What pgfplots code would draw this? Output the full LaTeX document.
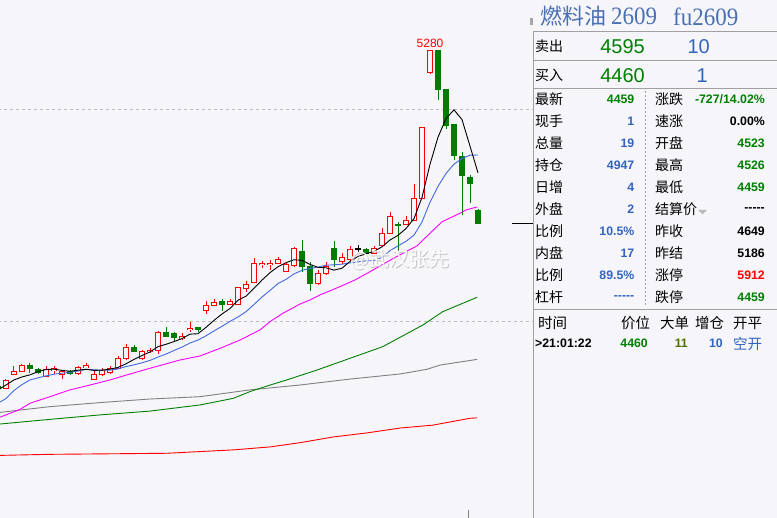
\documentclass[border=0pt]{standalone}
\usepackage{pgfplots}
\usepackage{pgfplotstable}
\pgfplotsset{compat=1.18}
\usepackage{fontspec}
\setmainfont{Liberation Sans}
\newfontfamily\cjk{Noto Sans CJK SC}
\newfontfamily\titlelat[FakeStretch=0.92]{Liberation Serif}

\definecolor{bgc}{RGB}{245,245,250}
\definecolor{cred}{RGB}{255,0,0}
\definecolor{cgreen}{RGB}{0,125,0}
\definecolor{mablue}{RGB}{65,105,225}
\definecolor{mamag}{RGB}{255,0,255}
\definecolor{magreen}{RGB}{0,128,0}
\definecolor{magray}{RGB}{128,128,128}
\definecolor{vblue}{RGB}{50,100,190}
\definecolor{vgreen}{RGB}{0,128,0}
\definecolor{volive}{RGB}{85,110,0}
\definecolor{ttl}{RGB}{74,112,180}
\definecolor{pline}{RGB}{160,160,160}
\definecolor{dashc}{RGB}{190,190,190}

\newcommand{\numF}{\bfseries\fontsize{12.3}{14}\selectfont}
\newcommand{\cjkF}{\cjk\fontsize{14}{16}\selectfont}
\newcommand{\dashes}{-{}-{}-{}-{}-}

\pgfplotsset{
  candle/.style n args={2}{draw=none, mark=none, forget plot,
    error bars/.cd, y dir=both, y explicit, error mark=none,
    error bar style={solid, draw=#1, line width=#2, line cap=butt}},
}

% rising candles (close >= open)
\pgfplotstableread{
k o h l c
0 3681 3725 3677 3717
1 3749 3788 3748 3764
2 3764 3799 3759 3792
5 3739 3788 3736 3769
6 3767 3788 3751 3774
7 3749 3771 3728 3761
9 3752 3789 3745 3782
10 3781 3800 3777 3789
11 3725 3767 3724 3749
12 3748 3777 3742 3766
13 3757 3790 3751 3777
14 3777 3835 3774 3824
15 3823 3892 3816 3874
17 3823 3861 3817 3855
18 3854 3871 3848 3863
19 3863 3951 3844 3945
22 3917 3942 3910 3926
23 3959 3994 3948 3966
25 4049 4094 4033 4075
26 4074 4102 4073 4088
28 4079 4104 4078 4094
29 4080 4156 4078 4156
30 4154 4187 4135 4170
31 4183 4296 4182 4272
32 4267 4283 4249 4272
33 4267 4288 4241 4272
34 4270 4303 4269 4292
35 4233 4280 4231 4267
36 4264 4350 4256 4343
39 4175 4241 4170 4225
40 4222 4277 4219 4256
42 4280 4320 4270 4301
43 4288 4354 4283 4335
46 4319 4354 4316 4343
47 4358 4437 4352 4414
48 4414 4516 4410 4495
50 4453 4494 4451 4476
51 4476 4645 4474 4579
52 4579 4914 4578 4914
53 5171 5280 5165 5274
}\upc

% falling candles
\pgfplotstableread{
k o h l c
-1 3690 3698 3675 3681
3 3792 3803 3756 3774
4 3772 3776 3751 3758
8 3764 3769 3745 3753
16 3876 3887 3854 3856
20 3945 3970 3926 3929
21 3939 3950 3907 3923
24 3967 3973 3950 3958
27 4091 4102 4049 4079
37 4330 4382 4233 4256
38 4256 4278 4143 4175
41 4343 4377 4256 4288
45 4335 4344 4316 4319
49 4456 4468 4327 4450
54 5274 5275 5042 5090
55 5094 5094 4904 4920
56 4925 4925 4759 4783
57 4775 4799 4500 4684
58 4678 4689 4558 4649
59 4523 4526 4459 4459
}\downc

% flat candle
\pgfplotstableread{
k o h l c
44 4340 4358 4321 4340
}\flatc

\pgfplotstableread{
k v
-1 3675
0 3698
1 3722
2 3736
3 3746
4 3761
5 3771
6 3773
7 3767
8 3763
9 3768
10 3772
11 3767
12 3768
13 3773
14 3781
15 3798
16 3819
17 3837
18 3854
19 3879
20 3890
21 3903
22 3917
23 3938
24 3940
25 3970
26 4003
27 4033
28 4059
29 4098
30 4117
31 4154
32 4193
33 4228
34 4256
35 4275
36 4289
37 4286
38 4267
39 4253
40 4251
41 4240
42 4249
43 4281
44 4304
45 4317
46 4328
47 4350
48 4382
49 4404
50 4436
51 4483
52 4583
53 4739
54 4867
55 4955
56 4996
57 4950
58 4825
59 4699
}\maA

\pgfplotstableread{
k v
-1 3612
0 3634
1 3672
2 3700
3 3722
4 3732
5 3741
6 3749
7 3754
8 3758
9 3764
10 3772
11 3770
12 3768
13 3768
14 3774
15 3785
16 3793
17 3803
18 3814
19 3830
20 3844
21 3861
22 3877
23 3896
24 3910
25 3930
26 3953
27 3975
28 3998
29 4019
30 4044
31 4078
32 4113
33 4144
34 4177
35 4196
36 4222
37 4239
38 4248
39 4254
40 4263
41 4265
42 4268
43 4274
44 4279
45 4284
46 4284
47 4300
48 4332
49 4354
50 4376
51 4405
52 4467
53 4560
54 4635
55 4696
56 4740
57 4766
58 4782
59 4783
}\maB

\pgfplotstableread{
k v
-0.75 3546
1.75 3583
3 3612
5.5 3643
8 3675
10.5 3698
13 3722
15.5 3750
18 3777
20.5 3803
21.75 3816
24.25 3835
26.75 3871
29.25 3910
31.75 3958
33 3997
34.6 4036
36.75 4080
38 4099
39.25 4123
41.75 4162
43.6 4193
45.9 4241
48.4 4295
51.4 4355
53 4414
54.5 4468
56.3 4500
57.6 4525
58.9 4538
}\maC

\pgfplotstableread{
k v
-0.75 3514
5.5 3536
11.75 3557
18 3575
24.25 3604
28.4 3635
30.5 3667
32.6 3693
35.1 3722
38.9 3769
43 3824
47.1 3879
52.1 3981
54.6 4044
58.9 4112
}\maD

\pgfplotstableread{
k v
-0.75 3569
5.5 3596
11.75 3615
18 3632
24.25 3643
30.5 3675
36.75 3698
43 3726
49.25 3750
52.6 3772
54.25 3792
58.9 3819
}\maE

\pgfplotstableread{
k v
-0.75 3366
5.4 3371
20.1 3376
23.2 3382
28.4 3392
33 3406
36.75 3426
40.9 3453
45.1 3472
49.25 3495
53.4 3509
58 3541
58.9 3543
}\maF

\begin{document}
\begin{tikzpicture}[x=1pt,y=1pt]
\path[use as bounding box] (0,0) rectangle (777,518);
\fill[bgc] (0,0) rectangle (777,518);
\begin{axis}[at={(0pt,0pt)}, anchor=south west, width=533pt, height=518pt,
  scale only axis, xmin=-0.75, xmax=65.875, ymin=3070.75, ymax=5514.15,
  hide axis, clip=true]
\draw[dashc, line width=0.8pt, dash pattern=on 3pt off 3pt] (axis cs:-1,5000) -- (axis cs:66,5000);
\draw[dashc, line width=0.8pt, dash pattern=on 3pt off 3pt] (axis cs:-1,4000) -- (axis cs:66,4000);
% wicks
\addplot[candle={cred}{1pt}]
  table[x=k, y expr={(\thisrow{h}+\thisrow{l})/2}, y error expr={(\thisrow{h}-\thisrow{l})/2}] {\upc};
\addplot[candle={cgreen}{1pt}]
  table[x=k, y expr={(\thisrow{h}+\thisrow{l})/2}, y error expr={(\thisrow{h}-\thisrow{l})/2}] {\downc};
\addplot[candle={black}{1pt}]
  table[x=k, y expr={(\thisrow{h}+\thisrow{l})/2}, y error expr={(\thisrow{h}-\thisrow{l})/2}] {\flatc};
% bodies
\addplot[candle={cred}{6pt}]
  table[x=k, y expr={(\thisrow{o}+\thisrow{c})/2}, y error expr={abs(\thisrow{c}-\thisrow{o})/2+2.4}] {\upc};
\addplot[candle={bgc}{4pt}]
  table[x=k, y expr={(\thisrow{o}+\thisrow{c})/2}, y error expr={max(abs(\thisrow{c}-\thisrow{o})/2-2.4,0)}] {\upc};
\addplot[candle={cgreen}{6pt}]
  table[x=k, y expr={(\thisrow{o}+\thisrow{c})/2}, y error expr={abs(\thisrow{c}-\thisrow{o})/2+2.4}] {\downc};
\addplot[candle={black}{6pt}]
  table[x=k, y expr={(\thisrow{o}+\thisrow{c})/2}, y error expr={abs(\thisrow{c}-\thisrow{o})/2+2.4}] {\flatc};
% moving averages
\addplot[cred, line width=0.9pt] table[x=k,y=v] {\maF};
\addplot[magray, line width=0.9pt] table[x=k,y=v] {\maE};
\addplot[magreen, line width=0.9pt] table[x=k,y=v] {\maD};
\addplot[mamag, line width=0.9pt] table[x=k,y=v] {\maC};
\addplot[mablue, line width=0.9pt] table[x=k,y=v] {\maB};
\addplot[black, line width=0.9pt] table[x=k,y=v] {\maA};
\node[cred, anchor=base, inner sep=0, font=\fontsize{12}{12}\selectfont] at (axis cs:53,5290) {5280};
\draw[black, line width=1pt] (axis cs:63.25,4459) -- (axis cs:65.9,4459);
\end{axis}
\begin{scope}[shift={(0,518)}, y=-1pt]
% watermark
\node[anchor=west, inner sep=0, text=gray!55, opacity=0.8, font={\cjk\fontsize{20}{20}\selectfont}] at (351,261) {@武汉张先};
\node[anchor=west, inner sep=0, text=white, opacity=0.9, font={\cjk\fontsize{20}{20}\selectfont}] at (350,260) {@武汉张先};
\draw[magray, line width=1pt] (468,510) -- (468,518);
% panel lines
\draw[pline, line width=1pt] (533.5,31) -- (533.5,518);
\draw[pline, line width=1pt] (533.5,31.5) -- (777,31.5);
\draw[pline, line width=1pt] (533.5,60.5) -- (777,60.5);
\draw[pline, line width=1pt] (533.5,88.5) -- (777,88.5);
\draw[pline, line width=1pt] (533.5,309.5) -- (777,309.5);
\draw[pline, line width=1pt, dash pattern=on 2pt off 2pt] (645.5,91) -- (645.5,305);
\fill[gray!70] (530,18) rectangle (533,25);
% title
\node[anchor=west, inner sep=0, text=ttl, font={\cjk\fontsize{22}{22}\selectfont}] at (540,16.5) {燃料油};
\node[anchor=west, inner sep=0, text=ttl, font={\titlelat\fontsize{25}{25}\selectfont}] at (611,16.5) {2609};
\node[anchor=west, inner sep=0, text=ttl, font={\titlelat\fontsize{25}{25}\selectfont}] at (673,16.5) {fu2609};
% bid/ask
\node[anchor=west, inner sep=0, font=\cjkF] at (535,46.5) {卖出};
\node[anchor=east, inner sep=0, text=vgreen, font=\fontsize{20}{20}\selectfont] at (645,47) {4595};
\node[anchor=east, inner sep=0, text=vblue, font=\fontsize{20}{20}\selectfont] at (710,47) {10};
\node[anchor=west, inner sep=0, font=\cjkF] at (535,75) {买入};
\node[anchor=east, inner sep=0, text=vgreen, font=\fontsize{20}{20}\selectfont] at (645,75.5) {4460};
\node[anchor=east, inner sep=0, text=vblue, font=\fontsize{20}{20}\selectfont] at (708,75.5) {1};
% quote rows
\foreach \y/\la/\va/\ca/\lb/\vb/\cb in {
  99.5/最新/4459/vgreen/涨跌/{-727/14.02\%}/vgreen,
  121.5/现手/1/vblue/速涨/0.00\%/black,
  143.5/总量/19/vblue/开盘/4523/vgreen,
  165.5/持仓/4947/vblue/最高/4526/vgreen,
  187.5/日增/4/vblue/最低/4459/vgreen,
  209.5/外盘/2/vblue/结算价/\dashes/black,
  231.5/比例/10.5\%/vblue/昨收/4649/black,
  253.5/内盘/17/vblue/昨结/5186/black,
  275.5/比例/89.5\%/vblue/涨停/5912/cred,
  297.5/杠杆/\dashes/vblue/跌停/4459/vgreen}{
  \node[anchor=west, inner sep=0, font=\cjkF] at (535,\y) {\la};
  \node[anchor=east, inner sep=0, text=\ca, font=\numF] at (634.5,\y) {\va};
  \node[anchor=west, inner sep=0, font=\cjkF] at (655,\y) {\lb};
  \node[anchor=east, inner sep=0, text=\cb, font=\numF] at (765,\y) {\vb};
}
\fill[gray!55] (698,210) -- (707,210) -- (702.5,214.5) -- cycle;
% trade list
\node[anchor=west, inner sep=0, font={\cjk\fontsize{14.5}{16}\selectfont}] at (538,323) {时间};
\node[anchor=west, inner sep=0, font={\cjk\fontsize{14.5}{16}\selectfont}] at (621,323) {价位};
\node[anchor=west, inner sep=0, font={\cjk\fontsize{14.5}{16}\selectfont}] at (660,323) {大单};
\node[anchor=west, inner sep=0, font={\cjk\fontsize{14.5}{16}\selectfont}] at (695,323) {增仓};
\node[anchor=west, inner sep=0, font={\cjk\fontsize{14.5}{16}\selectfont}] at (733,323) {开平};
\node[anchor=west, inner sep=0, font=\numF] at (535,343.5) {>21:01:22};
\node[anchor=east, inner sep=0, text=vgreen, font=\numF] at (648,343.5) {4460};
\node[anchor=east, inner sep=0, text=volive, font=\numF] at (688,343.5) {11};
\node[anchor=east, inner sep=0, text=vblue, font=\numF] at (723,343.5) {10};
\node[anchor=west, inner sep=0, text=vblue, font={\cjk\fontsize{14.5}{16}\selectfont}] at (733,343.5) {空开};
\end{scope}
\end{tikzpicture}
\end{document}
